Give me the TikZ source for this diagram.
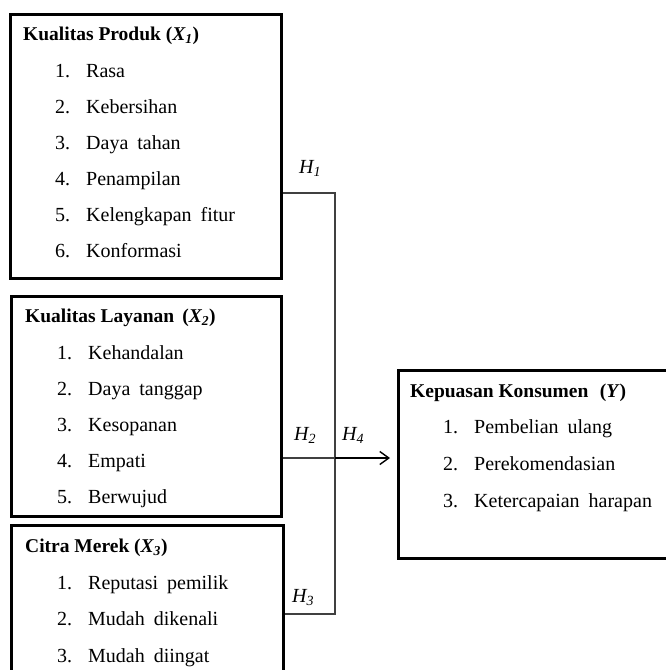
\documentclass[tikz,border=0pt]{standalone}
\usepackage{fontspec}
\setmainfont{Liberation Serif}
\usetikzlibrary{arrows.meta}
\def\rowsep{36}
\def\itemfont{\fontsize{20}{24}\selectfont\spaceskip=9pt\relax}

\begin{document}
\begin{tikzpicture}[x=1pt,y=-1pt,font=\fontsize{20}{24}\selectfont]
    \tikzstyle{var box}=[draw=black,line width=2.5pt,rectangle,anchor=north west,inner sep=0pt]
    \tikzstyle{title}=[anchor=base west,inner sep=0pt,font=\fontsize{19.5}{24}\selectfont\bfseries]
    \tikzstyle{item}=[anchor=base west,inner sep=0pt,font=\itemfont]
    \tikzstyle{hyp}=[anchor=base west,inner sep=0pt,font=\fontsize{20}{24}\selectfont\itshape]
    \tikzstyle{link}=[draw=black!75,line width=1.1pt]

    \useasboundingbox (0,0) rectangle (666,670);
    \clip (0,0) rectangle (666,670);

    % Draw the variable boxes
    \node[var box, minimum width=271pt, minimum height=264pt] (X1) at (9,13) {};
    \node[var box, minimum width=270pt, minimum height=220pt] (X2) at (10,295) {};
    \node[var box, minimum width=272pt, minimum height=180pt] (X3) at (10,524) {};
    \node[var box, minimum width=300pt, minimum height=188pt] (Y) at (397,369) {};

    % Titles
    \node[title] (X1-t) at (23,40) {Kualitas Produk (\textit{X\textsubscript{1}})};
    \node[title] (X2-t) at (25,322) {Kualitas Layanan\, (\textit{X\textsubscript{2}})};
    \node[title] (X3-t) at (25,552) {Citra Merek (\textit{X\textsubscript{3}})};
    \node[title] (Y-t) at (410,397) {Kepuasan Konsumen\,\, (\textit{Y})};

    % Indicators of each variable
    \foreach \i / \name in {1/Rasa, 2/Kebersihan, 3/Daya tahan, 4/Penampilan, 5/Kelengkapan fitur, 6/Konformasi}
        \node[item] (X1-\i) at (55,{41+\rowsep*\i}) {\makebox[31pt][l]{\i.}\name};

    \foreach \i / \name in {1/Kehandalan, 2/Daya tanggap, 3/Kesopanan, 4/Empati, 5/Berwujud}
        \node[item] (X2-\i) at (57,{323+\rowsep*\i}) {\makebox[31pt][l]{\i.}\name};

    \foreach \i / \name in {1/Reputasi pemilik, 2/Mudah dikenali, 3/Mudah diingat}
        \node[item] (X3-\i) at (57,{552.5+36.5*\i}) {\makebox[31pt][l]{\i.}\name};

    \foreach \i / \name in {1/Pembelian ulang, 2/Perekomendasian, 3/Ketercapaian harapan}
        \node[item] (Y-\i) at (443,{396+37*\i}) {\makebox[31pt][l]{\i.}\name};

    % Junctions on the collecting line
    \coordinate (J1) at (335,193);
    \coordinate (J2) at (335,458);
    \coordinate (J3) at (335,614);

    % Connect the variables
    \draw[link] (J1 -| X1.east) -- (J1) -- (J3) -- (J3 -| X3.east);
    \draw[link] (J2 -| X2.east) -- (J2);
    \draw[line width=1.8pt,-{Straight Barb[length=9pt,width=13pt,line width=1.4pt]},shorten >=7pt] (J2) -- (J2 -| Y.west);

    % Hypothesis labels
    \node[hyp] (H1) at (299,173) {H\textsubscript{1}};
    \node[hyp] (H2) at (294,440) {H\textsubscript{2}};
    \node[hyp] (H4) at (342,440) {H\textsubscript{4}};
    \node[hyp] (H3) at (292,602) {H\textsubscript{3}};

\end{tikzpicture}
\end{document}
